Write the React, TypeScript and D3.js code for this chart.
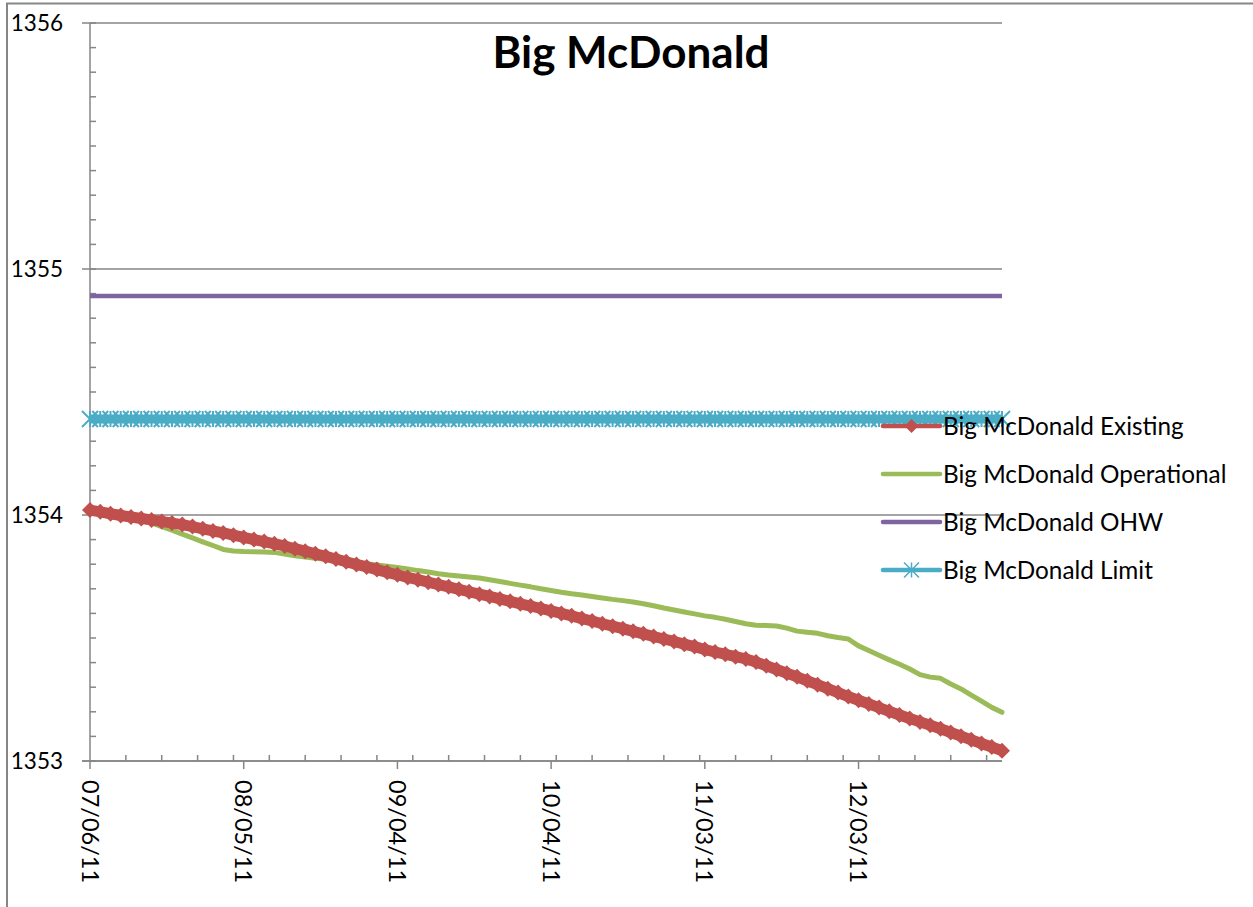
import React from 'react';
import * as d3 from 'd3';

// ---------- DATA ----------
const startDate = '07/06/11';
const endDate = '12/31/11';
const stepDays = 2;

const existing = [
  1354.020, 1354.013, 1354.005, 1353.998, 1353.992, 1353.986, 1353.980, 1353.974, 1353.967, 1353.961,
  1353.953, 1353.944, 1353.935, 1353.927, 1353.918, 1353.909, 1353.900, 1353.892, 1353.883, 1353.874,
  1353.863, 1353.853, 1353.842, 1353.832, 1353.821, 1353.810, 1353.799, 1353.789, 1353.778, 1353.767,
  1353.757, 1353.746, 1353.737, 1353.727, 1353.717, 1353.708, 1353.698, 1353.688, 1353.678, 1353.669,
  1353.659, 1353.649, 1353.639, 1353.630, 1353.620, 1353.610, 1353.600, 1353.590, 1353.579, 1353.569,
  1353.558, 1353.548, 1353.538, 1353.527, 1353.517, 1353.506, 1353.496, 1353.486, 1353.475, 1353.465,
  1353.453, 1353.443, 1353.434, 1353.424, 1353.415, 1353.402, 1353.387, 1353.372, 1353.357, 1353.342,
  1353.326, 1353.310, 1353.294, 1353.278, 1353.262, 1353.247, 1353.232, 1353.217, 1353.202, 1353.187,
  1353.173, 1353.159, 1353.145, 1353.131, 1353.116, 1353.101, 1353.086, 1353.071, 1353.057, 1353.042,
];

const operational = [
  1354.020, 1354.012, 1354.003, 1353.994, 1353.985, 1353.977, 1353.968, 1353.953, 1353.938, 1353.922,
  1353.907, 1353.891, 1353.876, 1353.860, 1353.854, 1353.852, 1353.851, 1353.850, 1353.848, 1353.841,
  1353.834, 1353.829, 1353.824, 1353.820, 1353.816, 1353.812, 1353.807, 1353.802, 1353.797, 1353.792,
  1353.787, 1353.781, 1353.774, 1353.768, 1353.761, 1353.756, 1353.752, 1353.748, 1353.744, 1353.737,
  1353.730, 1353.722, 1353.715, 1353.708, 1353.700, 1353.693, 1353.686, 1353.680, 1353.675, 1353.669,
  1353.663, 1353.657, 1353.652, 1353.646, 1353.639, 1353.631, 1353.622, 1353.614, 1353.606, 1353.598,
  1353.590, 1353.584, 1353.576, 1353.567, 1353.558, 1353.552, 1353.551, 1353.549, 1353.540, 1353.528,
  1353.523, 1353.519, 1353.509, 1353.502, 1353.496, 1353.468, 1353.449, 1353.430, 1353.411, 1353.393,
  1353.374, 1353.351, 1353.341, 1353.336, 1353.313, 1353.293, 1353.268, 1353.243, 1353.218, 1353.198,
];

const ohwLevel = 1354.89;
const limitLevel = 1354.39;

const xTickLabels = ['07/06/11', '08/05/11', '09/04/11', '10/04/11', '11/03/11', '12/03/11'];
const yTickValues = [1353, 1354, 1355, 1356];
const yDomain = [1353, 1356];

const title = 'Big McDonald';
const seriesNames = [
  'Big McDonald Existing',
  'Big McDonald Operational',
  'Big McDonald OHW',
  'Big McDonald Limit',
];

// ---------- STYLE ----------
const C_RED = '#C0504D';
const C_GREEN = '#9BBB59';
const C_PURPLE = '#8064A2';
const C_CYAN = '#4BACC6';
const C_AXIS = '#868686';
const FONT = 'Lato, "Open Sans", sans-serif';

const W = 1253;
const H = 907;
const plot = { left: 90, right: 1002, top: 23, bottom: 761 };

const parse = d3.timeParse('%m/%d/%y');

export default function App() {
  const t0 = parse(startDate) as Date;
  const t1 = parse(endDate) as Date;
  const dates = existing.map((_, i) => d3.timeDay.offset(t0, i * stepDays));

  const x = d3.scaleTime().domain([t0, t1]).range([plot.left, plot.right]);
  const y = d3.scaleLinear().domain(yDomain).range([plot.bottom, plot.top]);

  const line = d3
    .line<[Date, number]>()
    .x((d) => x(d[0]))
    .y((d) => y(d[1]));

  const existingPts: [Date, number][] = dates.map((d, i) => [d, existing[i]]);
  const operationalPts: [Date, number][] = dates.map((d, i) => [d, operational[i]]);
  const ohwPts: [Date, number][] = dates.map((d) => [d, ohwLevel]);
  const limitPts: [Date, number][] = dates.map((d) => [d, limitLevel]);

  const majorX = xTickLabels.map((l) => ({ label: l, x: x(parse(l) as Date) }));
  const totalDays = d3.timeDay.count(t0, t1);
  const minorX = d3.range(7, totalDays + 1, 7).map((k) => x(d3.timeDay.offset(t0, k)));
  const minorY = d3.range(0, 31).map((k) => y(yDomain[0] + k * 0.1));

  const diamond = (cx: number, cy: number, r: number) =>
    `M${cx},${cy - r}L${cx + r},${cy}L${cx},${cy + r}L${cx - r},${cy}Z`;
  const star = (cx: number, cy: number, r: number) =>
    `M${cx - r},${cy - r}L${cx + r},${cy + r}M${cx - r},${cy + r}L${cx + r},${cy - r}M${cx},${cy - r}L${cx},${cy + r}`;

  const legendX0 = 883;
  const legendX1 = 940;
  const legendTextX = 943;
  const legendY = [426, 474, 522, 570];

  return (
    <svg
      width={W}
      height={H}
      style={{ position: 'absolute', left: 0, top: 0, background: '#fff' }}
      fontFamily={FONT}
    >
      <rect x={0} y={0} width={W} height={H} fill="#fff" />
      {/* chart border */}
      <rect x={7} y={3.5} width={W + 20} height={H + 20} fill="none" stroke={C_AXIS} strokeWidth={2} />

      {/* gridlines */}
      {yTickValues.map((v) => (
        <line key={'g' + v} x1={plot.left - 8} x2={plot.right} y1={y(v)} y2={y(v)} stroke={C_AXIS} strokeWidth={1.5} />
      ))}

      {/* y axis */}
      <line x1={plot.left} x2={plot.left} y1={plot.top} y2={plot.bottom} stroke={C_AXIS} strokeWidth={1.5} />
      {minorY.map((yy, i) => (
        <line key={'my' + i} x1={plot.left} x2={plot.left + 6} y1={yy} y2={yy} stroke={C_AXIS} strokeWidth={1.5} />
      ))}
      {yTickValues.map((v) => (
        <text key={'yl' + v} x={63} y={y(v)} dy="0.36em" textAnchor="end" fontSize={22.5} fill="#000">
          {v}
        </text>
      ))}

      {/* x axis */}
      <line x1={plot.left - 8} x2={plot.right} y1={plot.bottom} y2={plot.bottom} stroke={C_AXIS} strokeWidth={1.5} />
      {minorX.map((xx, i) => (
        <line key={'mx' + i} x1={xx} x2={xx} y1={plot.bottom} y2={plot.bottom - 6} stroke={C_AXIS} strokeWidth={1.5} />
      ))}
      {majorX.map((t) => (
        <g key={'xt' + t.label}>
          <line x1={t.x} x2={t.x} y1={plot.bottom} y2={plot.bottom + 8} stroke={C_AXIS} strokeWidth={1.5} />
          <text
            transform={`translate(${t.x},780) rotate(90)`}
            dy="0.36em"
            textAnchor="start"
            fontSize={23.5}
            fill="#000"
          >
            {t.label}
          </text>
        </g>
      ))}

      {/* OHW */}
      <path d={line(ohwPts) || ''} fill="none" stroke={C_PURPLE} strokeWidth={4.5} />

      {/* Limit */}
      <path d={line(limitPts) || ''} fill="none" stroke={C_CYAN} strokeWidth={9} />
      {limitPts.map((p, i) => (
        <path key={'lm' + i} d={star(x(p[0]), y(p[1]), 8)} stroke={C_CYAN} strokeWidth={2} fill="none" />
      ))}

      {/* Operational */}
      <path d={line(operationalPts) || ''} fill="none" stroke={C_GREEN} strokeWidth={5} strokeLinejoin="round" strokeLinecap="round" />

      {/* Existing */}
      <path d={line(existingPts) || ''} fill="none" stroke={C_RED} strokeWidth={11} strokeLinejoin="round" />
      {existingPts.map((p, i) => (
        <path key={'em' + i} d={diamond(x(p[0]), y(p[1]), 8)} fill={C_RED} />
      ))}

      {/* title */}
      <text x={631} y={68} textAnchor="middle" fontSize={44} fontWeight="bold" fill="#000">
        {title}
      </text>

      {/* legend */}
      <g>
        <line x1={legendX0} x2={legendX1} y1={legendY[0]} y2={legendY[0]} stroke={C_RED} strokeWidth={4.5} strokeLinecap="round" />
        <path d={diamond((legendX0 + legendX1) / 2, legendY[0], 7)} fill={C_RED} />
        <line x1={legendX0} x2={legendX1} y1={legendY[1]} y2={legendY[1]} stroke={C_GREEN} strokeWidth={4.5} strokeLinecap="round" />
        <line x1={legendX0} x2={legendX1} y1={legendY[2]} y2={legendY[2]} stroke={C_PURPLE} strokeWidth={4.5} strokeLinecap="round" />
        <line x1={legendX0} x2={legendX1} y1={legendY[3]} y2={legendY[3]} stroke={C_CYAN} strokeWidth={4.5} strokeLinecap="round" />
        <path d={star((legendX0 + legendX1) / 2, legendY[3], 7.5)} stroke={C_CYAN} strokeWidth={1.5} fill="none" />
        {seriesNames.map((n, i) => (
          <text key={n} x={legendTextX} y={legendY[i]} dy="0.36em" fontSize={24.3} fill="#000">
            {n}
          </text>
        ))}
      </g>
    </svg>
  );
}
